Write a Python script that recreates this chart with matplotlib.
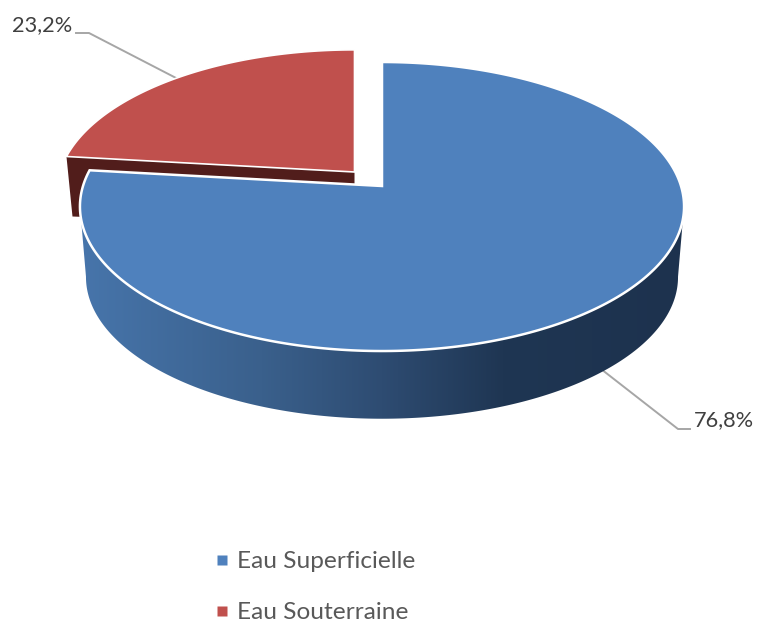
import numpy as np
import matplotlib
matplotlib.use("Agg")
import matplotlib.pyplot as plt
from matplotlib.colors import LinearSegmentedColormap
from matplotlib.lines import Line2D
from matplotlib.patches import Polygon

# data
categories = ["Eau Superficielle", "Eau Souterraine"]
shares = [76.8, 23.2]
share_labels = ["76,8%", "23,2%"]
colors = ["#4f81bd", "#c0504d"]

plt.rcParams["font.family"] = ["Lato", "DejaVu Sans"]

W, H = 758, 626
RX, RY, PERSP = 299.0, 141.6, 0.142
DEPTH = 67


def rim(theta, apex, scale=1.0):
    # theta in degrees, clockwise from 12 o'clock, circle seen in perspective
    t = np.radians(theta)
    u, v = np.sin(t), np.cos(t)
    w = 1 + PERSP * v
    return apex[0] + scale * RX * u / w, apex[1] - scale * RY * v / w


def wedge_pts(a0, a1, apex, scale=1.0):
    th = np.linspace(a0, a1, 300)
    x, y = rim(th, apex, scale)
    return np.column_stack([np.r_[apex[0], x], np.r_[apex[1], y]])


fig = plt.figure(figsize=(W / 100, H / 100), dpi=100)
ax = fig.add_axes([0, 0, 1, 1])

blue_end = shares[0] / sum(shares) * 360
apex_blue = (382, 186)
apex_red = (354.5, 172)
red_scale = 0.985

# red slice: dark cut face first, top after
rx0, ry0 = rim(blue_end, apex_red, red_scale)
face = [(rx0, ry0), apex_red, (apex_red[0], apex_red[1] + 55), (rx0 + 6, ry0 + 60)]
ax.add_patch(Polygon(face, closed=True, fc="#511d1b", ec="none", zorder=1))
ax.add_patch(Polygon(wedge_pts(blue_end, 360, apex_red, red_scale), closed=True,
                     fc=colors[1], ec="white", lw=1.2, zorder=2))

# blue wall, shaded left to right, straight sides between widest points
th = np.linspace(98, 262, 300)
tx, ty = rim(th, apex_blue)
bx, by = rim(th, apex_blue, 0.98)
by = by + DEPTH + 4
wall = Polygon(np.column_stack([np.r_[tx, bx[::-1]], np.r_[ty, by[::-1]]]),
               closed=True, fc="none", ec="none", transform=ax.transData)
ax.add_patch(wall)
shade = LinearSegmentedColormap.from_list(
    "wall", [(0.0, "#4775ab"), (0.3, "#3a608c"), (0.5, "#2e4c72"),
             (0.7, "#1f3653"), (1.0, "#1d324e")])
img = ax.imshow(np.linspace(0, 1, 256).reshape(1, -1), cmap=shade, aspect="auto",
                extent=(80, 684, 420, 180), zorder=3)
img.set_clip_path(wall)

# blue slice top
ax.add_patch(Polygon(wedge_pts(0, blue_end, apex_blue), closed=True,
                     fc=colors[0], ec="white", lw=1.8, zorder=4))

# leader lines and value labels
ax.plot([601, 678, 690], [369, 429, 429], color="#a6a6a6", lw=1.4, zorder=2)
ax.plot([76, 89, 178], [33, 33, 79], color="#a6a6a6", lw=1.4, zorder=1)
ax.text(694, 420, share_labels[0], fontsize=15.7, color="#404040", va="center", ha="left")
ax.text(12, 25, share_labels[1], fontsize=15.7, color="#404040", va="center", ha="left")

handles = [Line2D([], [], marker="s", ls="none", ms=7.5, mfc=c, mec="none") for c in colors]
ax.legend(handles, categories, loc="upper left", bbox_to_anchor=(212 / W, 1 - 551 / H),
          frameon=False, fontsize=17.6, labelcolor="#595959", labelspacing=1.23,
          handlelength=0.8, handletextpad=0.23, borderpad=0, borderaxespad=0)

ax.set_xlim(0, W)
ax.set_ylim(H, 0)
ax.axis("off")

fig.savefig("out.png", dpi=100)
